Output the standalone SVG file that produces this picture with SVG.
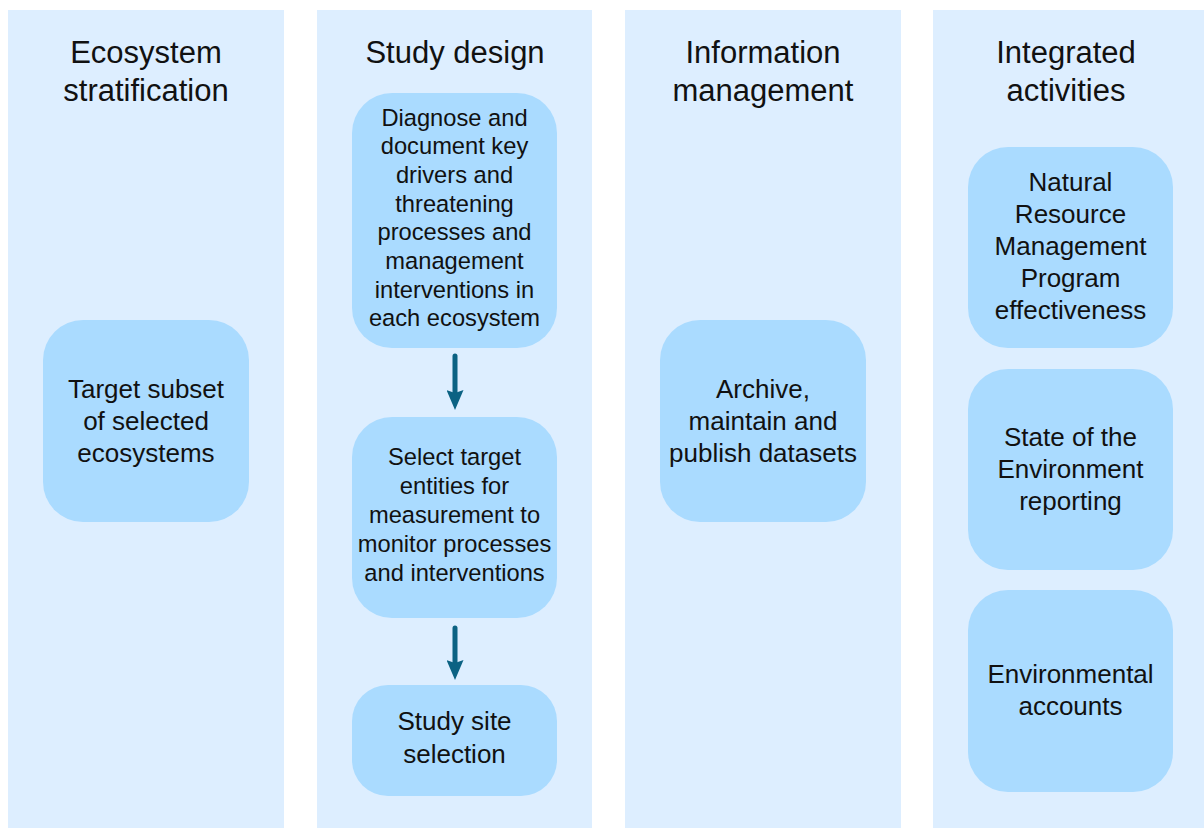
<svg xmlns="http://www.w3.org/2000/svg" width="1204" height="828" viewBox="0 0 1204 828">
<style>
.col{fill:#ddeeff}
.node{fill:#aadbff}
.title{font-family:"Liberation Sans",Arial,sans-serif;font-size:31px;fill:#111;text-anchor:middle}
.t26{font-family:"Liberation Sans",Arial,sans-serif;font-size:26px;fill:#111;text-anchor:middle}
.t24{font-family:"Liberation Sans",Arial,sans-serif;font-size:23.7px;fill:#111;text-anchor:middle}
.conn{stroke:#0b6283;stroke-width:5;fill:none}
</style>
<defs>
<marker id="ah" viewBox="0 0 20 17" refX="3" refY="8.5" markerWidth="20" markerHeight="17" markerUnits="userSpaceOnUse" orient="auto">
<path d="M0,0 L20,8.5 L0,17 L3,8.5 Z" fill="#0b6283"/>
</marker>
</defs>
<rect width="1204" height="828" fill="#ffffff"/>
<g id="columns">
<rect class="col" x="8" y="10" width="276" height="818"/>
<rect class="col" x="317" y="10" width="275" height="818"/>
<rect class="col" x="625" y="10" width="276" height="818"/>
<rect class="col" x="933" y="10" width="271" height="818"/>
</g>
<g id="titles">
<text class="title" x="146" y="63">Ecosystem</text>
<text class="title" x="146" y="101">stratification</text>
<text class="title" x="455" y="63">Study design</text>
<text class="title" x="763" y="63">Information</text>
<text class="title" x="763" y="101">management</text>
<text class="title" x="1066" y="63">Integrated</text>
<text class="title" x="1066" y="101">activities</text>
</g>
<g id="node-target-subset">
<rect class="node" x="43" y="320" width="206" height="202" rx="40"/>
<text class="t26" x="146" y="398">Target subset</text>
<text class="t26" x="146" y="430">of selected</text>
<text class="t26" x="146" y="462">ecosystems</text>
</g>
<g id="node-diagnose">
<rect class="node" x="352" y="93" width="205" height="255" rx="40"/>
<text class="t24" x="454.5" y="125.5">Diagnose and</text>
<text class="t24" x="454.5" y="154.2">document key</text>
<text class="t24" x="454.5" y="182.9">drivers and</text>
<text class="t24" x="454.5" y="211.6">threatening</text>
<text class="t24" x="454.5" y="240.3">processes and</text>
<text class="t24" x="454.5" y="269">management</text>
<text class="t24" x="454.5" y="297.7">interventions in</text>
<text class="t24" x="454.5" y="326.4">each ecosystem</text>
</g>
<g id="node-select-target">
<rect class="node" x="352" y="417" width="205" height="201" rx="40"/>
<text class="t24" x="454.5" y="465">Select target</text>
<text class="t24" x="454.5" y="494">entities for</text>
<text class="t24" x="454.5" y="523">measurement to</text>
<text class="t24" x="454.5" y="552">monitor processes</text>
<text class="t24" x="454.5" y="580.5">and interventions</text>
</g>
<g id="node-study-site">
<rect class="node" x="352" y="685" width="205" height="111" rx="36"/>
<text class="t26" x="454.5" y="730">Study site</text>
<text class="t26" x="454.5" y="762.5">selection</text>
</g>
<g id="node-archive">
<rect class="node" x="660" y="320" width="206" height="202" rx="40"/>
<text class="t26" x="763" y="398">Archive,</text>
<text class="t26" x="763" y="430">maintain and</text>
<text class="t26" x="763" y="462">publish datasets</text>
</g>
<g id="node-nrm">
<rect class="node" x="968" y="147" width="205" height="201" rx="40"/>
<text class="t26" x="1070.5" y="190.5">Natural</text>
<text class="t26" x="1070.5" y="222.5">Resource</text>
<text class="t26" x="1070.5" y="254.5">Management</text>
<text class="t26" x="1070.5" y="286.5">Program</text>
<text class="t26" x="1070.5" y="318.5">effectiveness</text>
</g>
<g id="node-soe">
<rect class="node" x="968" y="369" width="205" height="201" rx="40"/>
<text class="t26" x="1070.5" y="446">State of the</text>
<text class="t26" x="1070.5" y="478">Environment</text>
<text class="t26" x="1070.5" y="510">reporting</text>
</g>
<g id="node-accounts">
<rect class="node" x="968" y="590" width="205" height="202" rx="40"/>
<text class="t26" x="1070.5" y="682.5">Environmental</text>
<text class="t26" x="1070.5" y="714.5">accounts</text>
</g>
<g id="connectors">
<line class="conn" x1="455" y1="356" x2="455" y2="393" stroke-linecap="round" marker-end="url(#ah)"/>
<line class="conn" x1="455" y1="628" x2="455" y2="663" stroke-linecap="round" marker-end="url(#ah)"/>
</g>
</svg>
